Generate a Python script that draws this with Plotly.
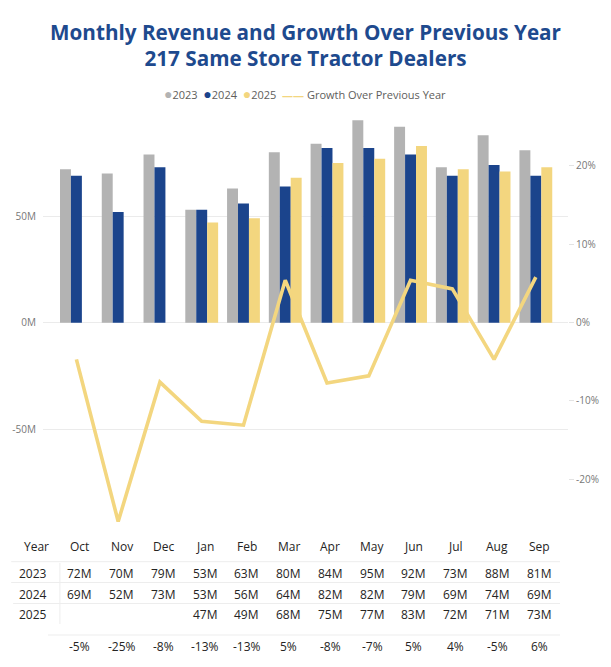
import plotly.graph_objects as go

# ---------------- data ----------------
months = ['Oct', 'Nov', 'Dec', 'Jan', 'Feb', 'Mar', 'Apr', 'May', 'Jun', 'Jul', 'Aug', 'Sep']
years = ['2023', '2024', '2025']
rev_2023 = [72, 70, 79, 53, 63, 80, 84, 95, 92, 73, 88, 81]          # $M
rev_2024 = [69, 52, 73, 53, 56, 64, 82, 82, 79, 69, 74, 69]          # $M
rev_2025 = [None, None, None, 47, 49, 68, 75, 77, 83, 72, 71, 73]    # $M
growth = [-4.7, -25.4, -7.6, -12.6, -13.1, 5.4, -7.7, -6.8, 5.4, 4.3, -4.7, 5.8]  # %
left_ticks = [-50, 0, 50]
right_ticks = [-20, -10, 0, 10, 20]

# ---------------- style ----------------
W, H = 611, 667
L, R, T, B = 40, 568, 108, 527          # plot area in pixels
C2023, C2024, C2025 = '#B3B3B3', '#1B448C', '#F3D67F'
LINE_C = '#F3D67F'
TITLE_C = '#1E4A8E'
FONT = 'Open Sans'
TXT = '#252423'

def py(p):  # pixel y -> paper y
    return (B - p) / (B - T)

def px(p):  # pixel x -> paper x
    return (p - L) / (R - L)

fig = go.Figure()
series = [(years[0], rev_2023, C2023), (years[1], rev_2024, C2024), (years[2], rev_2025, C2025)]
for name, vals, col in series:
    fig.add_trace(go.Bar(x=months, y=vals, name=name, marker=dict(color=col, line=dict(width=0)),
                         showlegend=False))

fig.add_trace(go.Scatter(x=months, y=growth, name='Growth Over Previous Year', mode='lines',
                         line=dict(color=LINE_C, width=3.6), yaxis='y2', showlegend=False))

# ---------------- legend as text ----------------
dot = "<span style='color:{c};font-size:14px'>●</span>"
legend_txt = (f"{dot.format(c=C2023)}{years[0]}  "
              f"{dot.format(c=C2024)}{years[1]}  "
              f"{dot.format(c=C2025)}{years[2]}  "
              f"<span style='color:{LINE_C};font-weight:bold'>——</span> Growth Over Previous Year")

ann = [dict(text=legend_txt, x=px(303), y=py(93), xref='paper', yref='paper',
            showarrow=False, xanchor='center', yanchor='middle',
            font=dict(family=FONT, size=11, color='#605E5C'))]

# ---------------- table ----------------
row_y = {'hdr': 546, '2023': 573, '2024': 594.5, '2025': 614, 'g': 646}
tfont = dict(family=FONT, size=12, color=TXT)
ann.append(dict(text='Year', x=px(33), y=py(row_y['hdr']), xref='paper', yref='paper',
                showarrow=False, xanchor='center', yanchor='middle', font=tfont))
for i, m in enumerate(months):
    ann.append(dict(text=m, x=i + 0.08, y=py(row_y['hdr']), xref='x', yref='paper',
                    showarrow=False, xanchor='center', yanchor='middle', font=tfont))
for name, vals, col in series:
    ann.append(dict(text=name, x=px(14), y=py(row_y[name]), xref='paper', yref='paper',
                    showarrow=False, xanchor='left', yanchor='middle', font=tfont))
    for i, v in enumerate(vals):
        if v is None:
            continue
        ann.append(dict(text=f"{v}M", x=i + 0.08, y=py(row_y[name]), xref='x', yref='paper',
                        showarrow=False, xanchor='center', yanchor='middle', font=tfont))
for i, g in enumerate(growth):
    ann.append(dict(text=f"{round(g)}%", x=i + 0.08, y=py(row_y['g']), xref='x', yref='paper',
                    showarrow=False, xanchor='center', yanchor='middle', font=tfont))

LC = '#EDEDED'
shapes = []
for yy, x0 in [(561.7, 8), (582.5, 8), (603.5, 10), (635, 45)]:
    shapes.append(dict(type='line', xref='paper', yref='paper', x0=px(x0), x1=px(560),
                       y0=py(yy), y1=py(yy), line=dict(color=LC, width=1)))
shapes.append(dict(type='line', xref='paper', yref='paper', x0=px(57), x1=px(57),
                   y0=py(563), y1=py(624), line=dict(color=LC, width=1)))

fig.update_layout(
    width=W, height=H,
    margin=dict(l=L, r=W - R, t=T, b=H - B),
    paper_bgcolor='white', plot_bgcolor='white',
    barmode='group', bargap=0.214, bargroupgap=0,
    title=dict(text='Monthly Revenue and Growth Over Previous Year<br>217 Same Store Tractor Dealers',
               x=0.5, xanchor='center', xref='container',
               y=1 - 39.5 / H, yanchor='middle', yref='container',
               font=dict(family=FONT, size=20.7, color=TITLE_C, weight='bold')),
    xaxis=dict(type='category', range=[-0.8, 11.77], showticklabels=False, showgrid=False,
               zeroline=False, showline=False, ticks=''),
    yaxis=dict(range=[-95.9, 100.8], tickvals=left_ticks, ticktext=[f"{v}M" for v in left_ticks],
               showgrid=True, gridcolor='#EBEBEB', gridwidth=1, zeroline=False, showline=False,
               tickfont=dict(family=FONT, size=10, color='#777777'), ticks='', ticklabelstandoff=6),
    yaxis2=dict(range=[-26.1, 27.4], overlaying='y', side='right', tickvals=right_ticks,
                ticktext=[f"{v}%" for v in right_ticks], showgrid=False, zeroline=False,
                showline=False, ticks='outside', ticklen=5, tickcolor='#E3E3E3',
                tickfont=dict(family=FONT, size=10, color='#777777')),
    annotations=ann, shapes=shapes,
)

fig.write_html('out.html')
